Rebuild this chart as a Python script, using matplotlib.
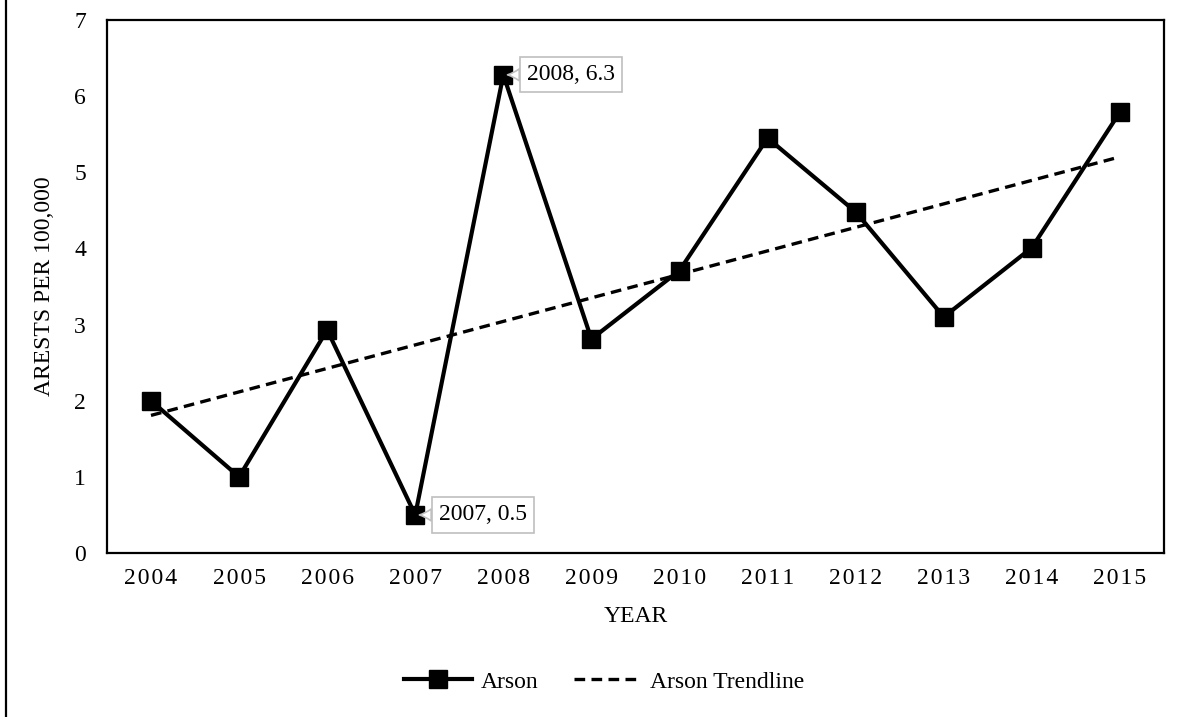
import numpy as np
import matplotlib
matplotlib.use('Agg')
import matplotlib.pyplot as plt
from matplotlib.lines import Line2D

plt.rcParams['font.family'] = ['Liberation Serif', 'DejaVu Serif']

years = ['2004', '2005', '2006', '2007', '2008', '2009', '2010', '2011', '2012', '2013', '2014', '2015']
arson = [2.0, 1.0, 2.93, 0.5, 6.28, 2.81, 3.71, 5.45, 4.48, 3.10, 4.01, 5.79]
y_ticks = [0, 1, 2, 3, 4, 5, 6, 7]

x = np.arange(len(years))
slope, intercept = np.polyfit(x, arson, 1)  # linear trendline like excel
trend = slope * x + intercept

fs = 17

fig = plt.figure(figsize=(11.87, 7.17), dpi=100)
ax = fig.add_axes([0.0901, 0.2287, 0.8905, 0.7434])

ax.plot(x, arson, '-s', color='black', lw=3.0, ms=12.5, label='Arson', zorder=3)
ax.plot(x, trend, '--', color='black', lw=2.4, dashes=(3.2, 1.9), label='Arson Trendline', zorder=2)

ax.set_xlim(-0.5, len(years) - 0.5)
ax.set_ylim(0, 7)
ax.set_yticks(y_ticks)
ax.set_xticks(x)
ax.set_xticklabels(['\u200a'.join(y) for y in years])
ax.tick_params(axis='both', length=0, labelsize=fs)
ax.tick_params(axis='y', pad=15)
ax.tick_params(axis='x', pad=11)
for s in ax.spines.values():
    s.set_linewidth(1.6)

ax.set_xlabel('YEAR', fontsize=fs, labelpad=12)
ax.set_ylabel('ARESTS PER 100,000', fontsize=fs, labelpad=14)

# data labels
box = dict(boxstyle='square,pad=0.3', fc='white', ec='#bfbfbf', lw=1.2)
arrow = dict(arrowstyle='wedge,tail_width=0.5,shrink_factor=0.4', fc='white', ec='#bfbfbf',
             lw=1.2, shrinkA=0, shrinkB=3)
ax.annotate('2008, 6.3', xy=(4, arson[4]), xytext=(17, 0), textcoords='offset points',
            fontsize=fs, va='center', ha='left', bbox=box, arrowprops=arrow, zorder=4)
ax.annotate('2007, 0.5', xy=(3, arson[3]), xytext=(17, 0), textcoords='offset points',
            fontsize=fs, va='center', ha='left', bbox=box, arrowprops=arrow, zorder=4)

fig.legend(loc='center', bbox_to_anchor=(0.509, 0.049), ncol=2, frameon=False,
           fontsize=fs, handlelength=2.9, columnspacing=1.5, handletextpad=0.35)

# left border of the chart area
fig.add_artist(Line2D([0.005, 0.005], [0, 1], color='black', lw=1.6, transform=fig.transFigure))

fig.savefig('out.png', dpi=100)
